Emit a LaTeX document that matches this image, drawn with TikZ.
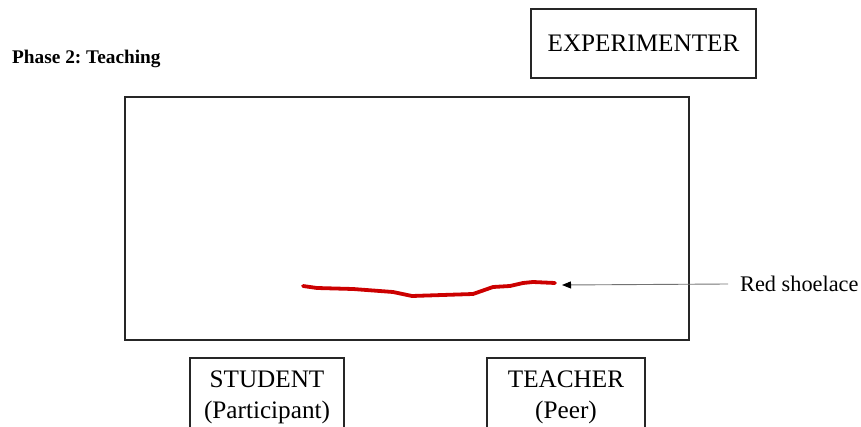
\documentclass[tikz,border=0pt]{standalone}
\usepackage{fontspec}
\setmainfont{Liberation Serif}
\frenchspacing
\usetikzlibrary{arrows.meta}
\tikzstyle{block} = [rectangle, draw=black!85, line width=1.3pt,
    align=center, font=\fontsize{25.2}{31}\selectfont, inner sep=0pt]
\tikzstyle{lace} = [draw=red!80!black, line width=3.8pt, line join=round, line cap=round]
\tikzstyle{pointer} = [draw=black!55, line width=0.9pt, -{Triangle[black,length=9pt,width=7pt]}]

\begin{document}
\begin{tikzpicture}[x=1pt, y=-1pt]
	\useasboundingbox (0,0) rectangle (861,427);
	\clip (0,0) rectangle (861,427);
	\node [anchor=west, inner sep=0pt, font=\fontsize{19.3}{22}\selectfont\bfseries] (phase) at (12,59) {Phase 2: Teaching};
	\node [block, minimum width=225pt, minimum height=69pt] (exp) at (643.5,43.5) {EXPERIMENTER};
	\node [block, minimum width=564pt, minimum height=243pt] (table) at (407,218.5) {};
	\node [block, minimum width=154pt, minimum height=79pt] (student) at (267,397.5) {STUDENT\\(Participant)};
	\node [block, minimum width=158pt, minimum height=79pt] (teacher) at (566,397.5) {TEACHER\\(Peer)};
	\node [anchor=west, font=\fontsize{22.3}{26}\selectfont, inner sep=0pt] (label) at (740,284) {Red shoelace};

	% shoelace lying on the table
	\draw [lace] (303,286) -- (317,288) -- (353,289) -- (393,292) -- (412,296)
		-- (473,294) -- (493,287) -- (510,286) -- (523,283) -- (533,282) -- (555,283);
	\coordinate (laceend) at (562,285);

        \draw [pointer] ([xshift=-12pt]label.west) -- (laceend);
\end{tikzpicture}
\end{document}
